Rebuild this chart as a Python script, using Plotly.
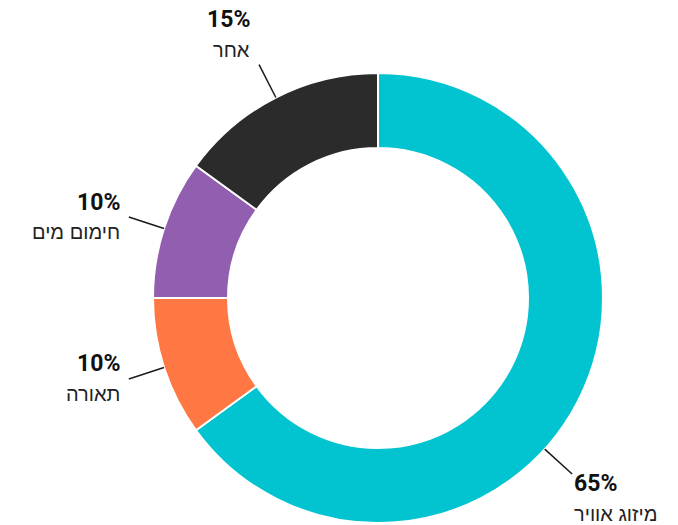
import math
import plotly.graph_objects as go

categories = ["מיזוג אוויר", "תאורה", "חימום מים", "אחר"]
values = [65, 10, 10, 15]
pct_labels = ["65%", "10%", "10%", "15%"]
colors = ["#02C4D1", "#FF7843", "#925EB0", "#2B2B2B"]

W, H = 678, 525
CX, CY = 378, 298          # pie centre in px (from top)
R_OUT = 225
R_IN = 150
R_LINE_END = 262
EDGE_PAD = 25
CHAR_W = 7.3

fig = go.Figure(go.Pie(
    labels=categories,
    values=values,
    sort=False,
    direction="clockwise",
    rotation=0,
    hole=R_IN / R_OUT,
    textinfo="none",
    hoverinfo="label+percent",
    marker=dict(colors=colors, line=dict(color="white", width=2)),
    domain=dict(x=[(CX - R_OUT) / W, (CX + R_OUT) / W],
                y=[(H - CY - R_OUT) / H, (H - CY + R_OUT) / H]),
    showlegend=False,
))

total = sum(values)
cum = 0
shapes = []
annotations = []
for name, val, pct in zip(categories, values, pct_labels):
    mid = (cum + val / 2) / total
    cum += val
    th = 2 * math.pi * mid
    est_w = CHAR_W * len(name)
    # slide label along the ring until it fits inside the canvas
    if math.sin(th) > 0:
        step = 0.005 if math.cos(th) < 0 else -0.005
        while CX + R_LINE_END * math.sin(th) + est_w > W - EDGE_PAD:
            th += step
    s, c = math.sin(th), math.cos(th)
    x0, y0 = CX + R_OUT * s, (H - CY) + R_OUT * c
    x1, y1 = CX + R_LINE_END * s, (H - CY) + R_LINE_END * c
    shapes.append(dict(type="line", xref="paper", yref="paper",
                       x0=x0 / W, y0=y0 / H, x1=x1 / W, y1=y1 / H,
                       line=dict(color="#1a1a1a", width=1.5)))
    if s >= 0:
        xanchor, xsh = "left", 0
    else:
        xanchor, xsh = "right", -7
    if c > 0.4:
        offs = (45, 15)
    elif c < -0.4:
        offs = (-10, -40)
    else:
        offs = (15, -15)
    annotations.append(dict(x=x1 / W, y=y1 / H, xref="paper", yref="paper",
                            text="<b>" + pct + "</b>", showarrow=False,
                            xanchor=xanchor, yanchor="middle",
                            xshift=xsh, yshift=offs[0],
                            font=dict(family="Roboto, Arial, Liberation Sans", size=23,
                                      weight=900, color="#111")))
    annotations.append(dict(x=x1 / W, y=y1 / H, xref="paper", yref="paper",
                            text=name, showarrow=False,
                            xanchor=xanchor, yanchor="middle",
                            xshift=xsh, yshift=offs[1],
                            font=dict(family="Liberation Sans, Arial, sans-serif", size=20, color="#222")))

fig.update_layout(
    width=W, height=H,
    margin=dict(l=0, r=0, t=0, b=0),
    paper_bgcolor="white",
    plot_bgcolor="white",
    shapes=shapes,
    annotations=annotations,
)

fig.write_html("out.html", config={"displayModeBar": False},
               post_script="document.body.style.margin='0';")
